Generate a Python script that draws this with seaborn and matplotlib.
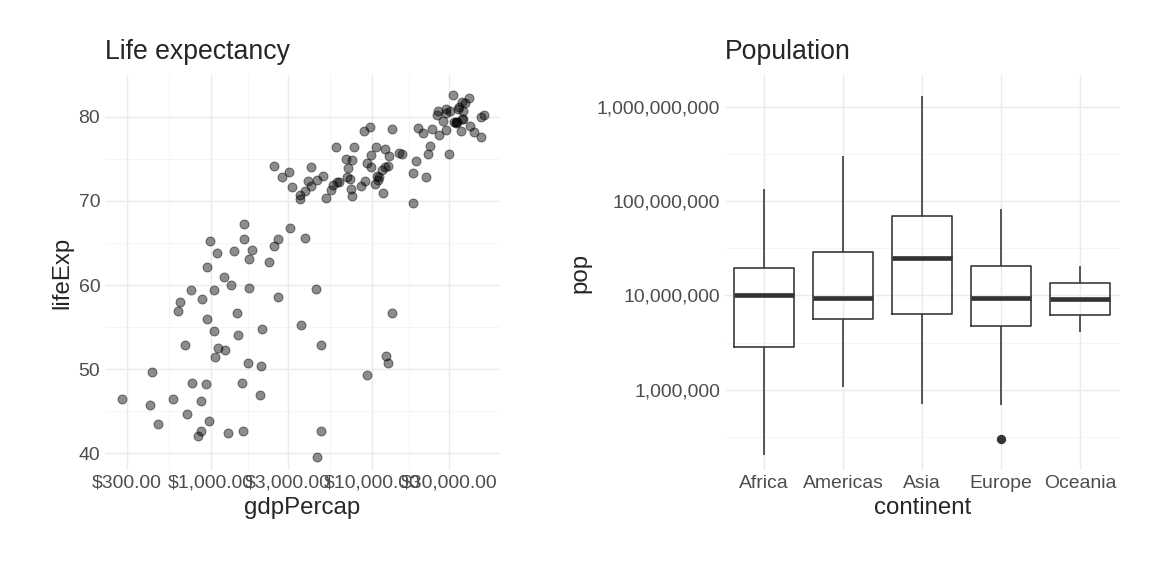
import numpy as np
import pandas as pd
import matplotlib
matplotlib.use("Agg")
import matplotlib.pyplot as plt
from matplotlib.ticker import FixedLocator, FuncFormatter, NullFormatter
import seaborn as sns

# gapminder 2007, one entry per country: continent, lifeExp, pop, gdpPercap
continent = (["Africa"] * 52 + ["Americas"] * 25 + ["Asia"] * 33
             + ["Europe"] * 30 + ["Oceania"] * 2)
life_exp = [
    72.3, 42.7, 56.7, 50.7, 52.3, 49.6, 50.4, 44.7, 50.7, 65.2, 46.5, 55.3, 48.3,
    54.8, 71.3, 51.6, 58.0, 52.9, 56.7, 59.4, 60.0, 56.0, 46.4, 54.1, 42.6, 45.7,
    74.0, 59.4, 48.3, 54.5, 64.2, 72.8, 71.2, 42.1, 52.9, 56.9, 46.9, 76.4, 46.2,
    65.5, 63.1, 42.6, 48.2, 49.3, 58.6, 39.6, 52.5, 58.4, 73.9, 51.5, 42.4, 43.5,
    75.3, 65.6, 72.4, 80.7, 78.6, 72.9, 78.8, 78.3, 72.2, 75.0, 71.9, 70.3, 60.9,
    70.2, 72.6, 76.2, 72.9, 75.5, 71.8, 71.4, 78.7, 69.8, 78.2, 76.4, 73.7,
    43.8, 75.6, 64.1, 59.7, 73.0, 82.2, 64.7, 70.7, 71.0, 59.5, 80.7, 82.6, 72.5,
    67.3, 78.6, 77.6, 72.0, 74.2, 66.8, 62.1, 63.8, 75.6, 65.5, 71.7, 72.8, 80.0,
    72.4, 74.1, 78.4, 70.6, 74.2, 73.4, 62.7,
    76.4, 79.8, 79.4, 74.9, 73.0, 75.7, 76.5, 78.3, 79.3, 80.7, 79.4, 79.5, 73.3,
    81.8, 78.9, 80.5, 74.5, 79.8, 80.2, 75.6, 78.1, 72.5, 74.0, 74.7, 77.9, 80.9,
    80.9, 81.7, 71.8, 79.4,
    81.2, 80.2,
]
pop_millions = [
    33.3, 12.4, 8.08, 1.64, 14.3, 8.39, 17.7, 4.37, 10.2, 0.71, 64.6, 3.8, 18.0,
    0.50, 80.3, 0.55, 4.9, 76.5, 1.45, 1.69, 22.9, 9.9, 1.47, 35.6, 2.01, 3.19,
    6.04, 19.2, 13.3, 12.0, 3.27, 1.25, 33.8, 20.0, 2.06, 12.9, 135.0, 0.80, 8.86,
    0.20, 12.3, 6.14, 9.12, 44.0, 42.3, 1.13, 38.1, 5.70, 10.3, 29.2, 11.7, 12.3,
    40.3, 9.12, 190.0, 33.4, 16.3, 44.2, 4.13, 11.4, 9.32, 13.8, 6.94, 12.6, 8.50,
    7.48, 2.78, 109.0, 5.68, 3.24, 6.67, 28.7, 3.94, 1.06, 301.0, 3.45, 26.1,
    31.9, 0.71, 150.0, 14.1, 1319.0, 6.98, 1110.0, 224.0, 69.5, 27.5, 6.43, 127.0,
    6.05, 23.3, 49.0, 2.51, 3.92, 24.8, 2.87, 47.8, 28.9, 3.20, 169.0, 91.1, 27.6,
    4.55, 20.4, 19.3, 23.2, 65.1, 85.3, 4.02, 22.2,
    3.60, 8.20, 10.4, 4.55, 7.32, 4.49, 10.2, 5.47, 5.24, 61.1, 82.4, 10.7, 9.96,
    0.30, 4.11, 58.1, 0.68, 16.6, 4.63, 38.5, 10.6, 22.3, 10.2, 5.45, 2.01, 40.4,
    9.03, 7.55, 71.2, 60.8,
    20.4, 4.12,
]
gdp_percap = [
    6223, 4797, 1441, 12570, 1217, 430, 2042, 706, 1704, 986, 278, 3633, 1545,
    2082, 5581, 12154, 641, 691, 13206, 753, 1328, 943, 579, 1463, 1569, 415,
    12057, 1045, 759, 1042, 1803, 10957, 3820, 824, 4811, 620, 2014, 7670, 863,
    1598, 1712, 863, 926, 9270, 2602, 4513, 1107, 883, 7093, 1056, 1271, 470,
    12779, 3822, 9066, 36319, 13172, 7007, 9645, 8948, 6025, 6873, 5728, 5186, 1202,
    3548, 7321, 11978, 2749, 9809, 4173, 7409, 19329, 18009, 42952, 10611, 11416,
    975, 29796, 1391, 1714, 4959, 39725, 2452, 3541, 11606, 4471, 25523, 31656,
    4519, 1593, 23348, 47307, 10461, 12452, 3096, 944, 1091, 22316, 2606, 3190,
    21655, 47143, 3970, 4185, 28718, 7458, 2442, 3025, 2281,
    5937, 36126, 33693, 7446, 10681, 14619, 22833, 35278, 33207, 30470, 32170,
    27538, 18009, 36181, 40676, 28570, 9254, 36798, 49357, 15390, 20510, 10808,
    9787, 18678, 25768, 28821, 33860, 37506, 8458, 33203,
    34435, 25185,
]

df = pd.DataFrame({"continent": continent, "lifeExp": life_exp,
                   "pop": np.array(pop_millions) * 1e6, "gdpPercap": gdp_percap})

sns.set_theme(style="whitegrid")
plt.rcParams["font.family"] = ["Liberation Sans", "DejaVu Sans"]

fig = plt.figure(figsize=(12, 6), dpi=96)
ax0 = fig.add_axes([0.091, 0.184, 0.343, 0.686])
ax1 = fig.add_axes([0.629, 0.184, 0.343, 0.686])

# Left: scatter
sns.scatterplot(data=df, x="gdpPercap", y="lifeExp", ax=ax0, color="black",
                alpha=0.45, s=45, edgecolor="black", linewidth=0.8)
ax0.set_xscale("log")
ax0.xaxis.set_major_locator(FixedLocator([300, 1000, 3000, 10000, 30000]))
ax0.xaxis.set_minor_locator(FixedLocator([550, 1700, 5500, 17000]))
ax0.xaxis.set_major_formatter(FuncFormatter(lambda v, p: f"${v:,.2f}"))
ax0.xaxis.set_minor_formatter(NullFormatter())
ax0.set_yticks([40, 50, 60, 70, 80])
ax0.yaxis.set_minor_locator(FixedLocator([45, 55, 65, 75]))
ax0.set_xlim(219, 62000)
ax0.set_ylim(38, 85)
ax0.set_title("Life expectancy", loc="left", fontsize=20, pad=12)

# Right: boxplot
sns.boxplot(data=df, x="continent", y="pop", ax=ax1, log_scale=True,
            fill=False, color="#333333", width=0.76, linewidth=1.2,
            showcaps=False, medianprops=dict(linewidth=3.5),
            flierprops=dict(marker="o", markerfacecolor="#333333",
                            markeredgecolor="#333333", markersize=6))
ax1.yaxis.set_major_locator(FixedLocator([1e6, 1e7, 1e8, 1e9]))
ax1.yaxis.set_minor_locator(FixedLocator([10**5.5, 10**6.5, 10**7.5, 10**8.5]))
ax1.yaxis.set_major_formatter(FuncFormatter(lambda v, p: f"{v:,.0f}"))
ax1.yaxis.set_minor_formatter(NullFormatter())
ax1.set_ylim(1.4e5, 2.2e9)
ax1.set_title("Population", loc="left", fontsize=20, pad=12)

for ax in (ax0, ax1):
    ax.grid(which="major", color="#ebebeb", linewidth=1.1)
    ax.grid(which="minor", color="#f3f3f3", linewidth=0.6)
    for s in ax.spines.values():
        s.set_visible(False)
    ax.tick_params(which="both", length=0, labelsize=14.5, labelcolor="#4d4d4d")
    ax.xaxis.label.set_size(18)
    ax.yaxis.label.set_size(18)

fig.savefig("out.png", dpi=96)
